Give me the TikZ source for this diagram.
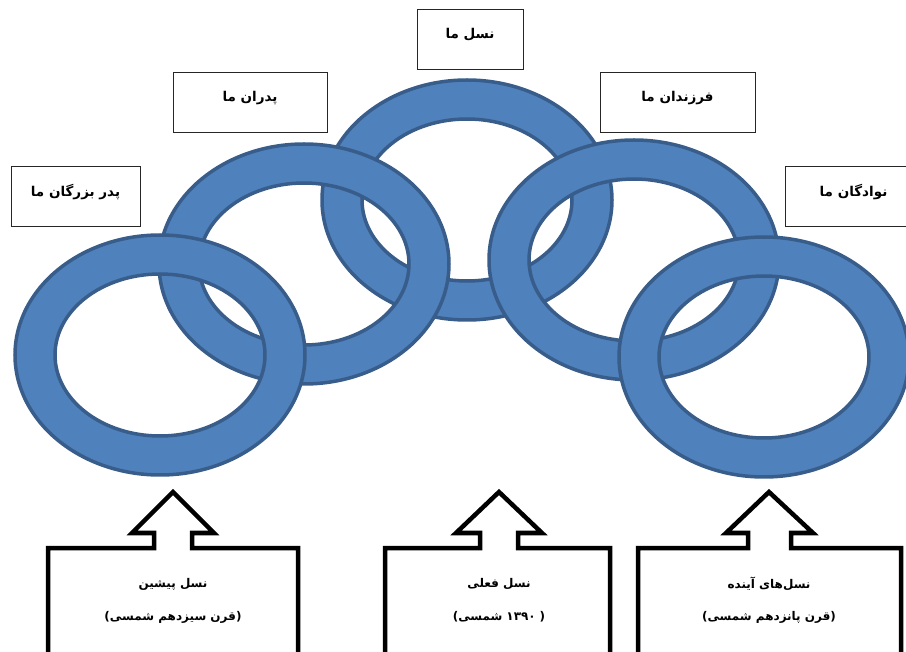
\documentclass[tikz,border=0pt]{standalone}
\usepackage{fontspec}
\TeXXeTstate=1
\newfontfamily\fafont[Script=Arabic]{DejaVu Sans}
\newfontfamily\parfont{DejaVu Sans}
\definecolor{ringfill}{HTML}{4F81BD}
\definecolor{ringline}{HTML}{385D8A}
\newcommand\lpar{\hbox{\parfont\bfseries(}}
\newcommand\rpar{\hbox{\parfont\bfseries)}}
\begin{document}
\begin{tikzpicture}[x=1pt,y=-1pt,
  ring/.style={fill=ringfill, draw=ringline, line width=3.5pt, even odd rule},
  topbox/.style={draw=black!85, line width=1pt, fill=white, minimum height=60pt, inner sep=0pt},
  lbl/.style={font=\fafont\bfseries\fontsize{13.5}{15}\selectfont, text=black, inner sep=0pt},
  clbl/.style={font=\fafont\bfseries\fontsize{12}{14}\selectfont, text=black, inner sep=0pt},
  callout/.style={draw=black, line width=4.5pt, fill=white, line join=miter},
  ringpic/.pic={\path[ring] (0,0) ellipse [x radius=145, y radius=120] (0,0) ellipse [x radius=105, y radius=81];}
]
\useasboundingbox (0,0) rectangle (906,652);
\clip (0,0) rectangle (906,652);

% ring centres
\coordinate (r1) at (160,355);
\coordinate (r2) at (304,264);
\coordinate (r3) at (467,200);
\coordinate (r4) at (634,260);
\coordinate (r5) at (764,357);

% top boxes
\node[topbox, minimum width=129pt] (b1) at (75.5,197) {};
\node[topbox, minimum width=154pt] (b2) at (250,103) {};
\node[topbox, minimum width=106pt] (b3) at (470,40) {};
\node[topbox, minimum width=155pt] (b4) at (677.5,103) {};
\node[topbox, minimum width=137pt] (b5) at (853.5,197) {};

\node[lbl] (t1) at ([yshift=5pt]b1.center) {\beginR پدر بزرگان ما\endR};
\node[lbl] (t2) at ([yshift=5pt]b2.center) {\beginR پدران ما\endR};
\node[lbl] (t3) at ([yshift=5pt]b3.center) {\beginR نسل ما\endR};
\node[lbl] (t4) at ([yshift=5pt]b4.center) {\beginR فرزندان ما\endR};
\node[lbl] (t5) at ([yshift=5pt]b5.center) {\beginR نوادگان ما\endR};

% rings (stacking order)
\pic at (r3) {ringpic};
\pic at (r2) {ringpic};
\pic at (r1) {ringpic};
\pic at (r4) {ringpic};
\pic at (r5) {ringpic};

% callouts
\coordinate (k1) at (173,492);
\coordinate (k2) at (499,492);
\coordinate (k3) at (769,492);
\draw[callout] (48,670) -- (48,548) -- (154,548) -- (154,533) -- (132,533) -- (k1) -- (214,533) -- (192,533) -- (192,548) -- (298,548) -- (298,670);
\draw[callout] (385,670) -- (385,548) -- (480,548) -- (480,533) -- (456,533) -- (k2) -- (542,533) -- (518,533) -- (518,548) -- (610,548) -- (610,670);
\draw[callout] (638,670) -- (638,548) -- (748,548) -- (748,533) -- (726,533) -- (k3) -- (813,533) -- (791,533) -- (791,548) -- (901,548) -- (901,670);

\node[clbl] (c1a) at (173,584) {\beginR نسل پیشین\endR};
\node[clbl] (c1b) at (173,617) {\lpar\hbox{\beginR قرن سیزدهم شمسی\endR}\rpar};
\node[clbl] (c2a) at (499,584) {\beginR نسل فعلی\endR};
\node[clbl] (c2b) at (499,617) {\lpar\hbox{شمسی}\hspace{4pt}\hbox{۱۳۹۰}\hspace{4pt}\rpar};
\node[clbl] (c3a) at (769,584) {\beginR نسل‌های آینده\endR};
\node[clbl] (c3b) at (769,617) {\lpar\hbox{\beginR قرن پانزدهم شمسی\endR}\rpar};
\end{tikzpicture}
\end{document}
